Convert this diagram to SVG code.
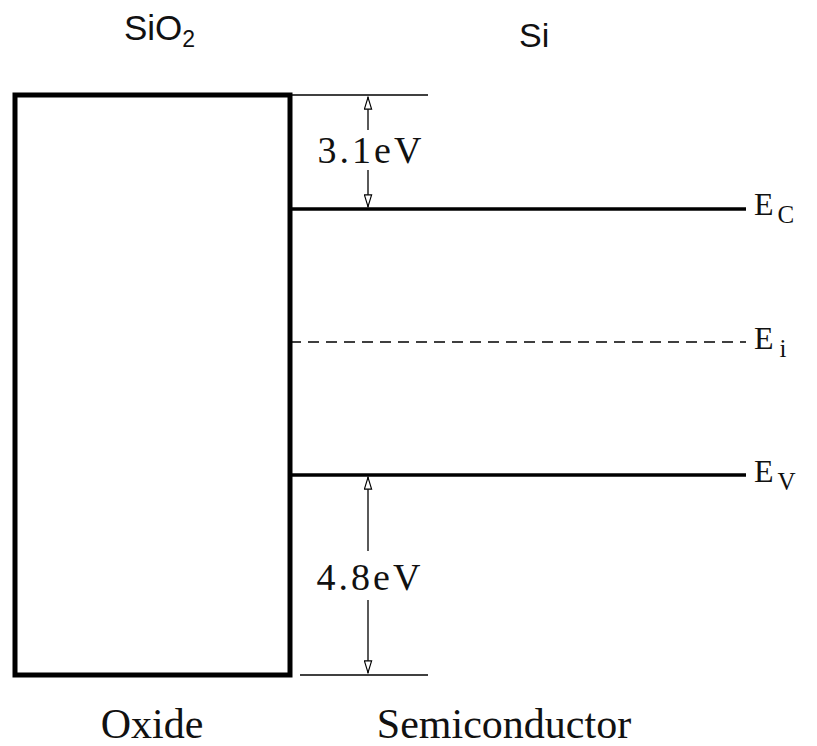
<svg xmlns="http://www.w3.org/2000/svg" width="817" height="746" viewBox="0 0 817 746">
<style>
.sans{font-family:"Liberation Sans",Arial,sans-serif;fill:#111}
.serif{font-family:"Liberation Serif","Times New Roman",serif;fill:#111}
.thin{stroke:#000;stroke-width:1.3;fill:none}
.band{stroke:#000;stroke-width:3.5;fill:none}
.gap{font-size:38px;letter-spacing:3px}
.lvl{font-size:32px}
.sub{font-size:25px}
.bot{font-size:42px}
</style>
<defs>
<marker id="ah" viewBox="0 0 14 10" refX="14" refY="5" markerWidth="14" markerHeight="9" markerUnits="userSpaceOnUse" orient="auto">
<path d="M0.5,1 L13.5,5 L0.5,9 Z" fill="#fff" stroke="#000" stroke-width="1.3"/>
</marker>
</defs>
<g id="oxide">
<rect x="15" y="95" width="275" height="580" fill="#fff" stroke="#000" stroke-width="5"/>
</g>
<g id="levels">
<line class="thin" x1="290" y1="95" x2="428" y2="95"/>
<line class="band" x1="290" y1="209" x2="746" y2="209"/>
<line class="thin" x1="290" y1="342" x2="746" y2="342" stroke-dasharray="11,7" stroke-width="1.8"/>
<line class="band" x1="290" y1="475" x2="746" y2="475"/>
<line class="thin" x1="300" y1="675" x2="428" y2="675"/>
</g>
<g id="connectors">
<line class="thin" x1="368" y1="130" x2="368" y2="97" marker-end="url(#ah)"/>
<line class="thin" x1="368" y1="170" x2="368" y2="207" marker-end="url(#ah)"/>
<line class="thin" x1="368" y1="551" x2="368" y2="477" marker-end="url(#ah)"/>
<line class="thin" x1="368" y1="600" x2="368" y2="673" marker-end="url(#ah)"/>
</g>
<g id="labels">
<text class="sans" x="124" y="40" font-size="35">SiO<tspan font-size="23" dy="7">2</tspan></text>
<text class="sans" x="519" y="47" font-size="34">Si</text>
<text class="serif gap" x="371" y="163" text-anchor="middle">3.1eV</text>
<text class="serif gap" x="370" y="590" text-anchor="middle">4.8eV</text>
<text class="serif lvl" x="754" y="215">E<tspan class="sub" dx="4" dy="8">C</tspan></text>
<text class="serif lvl" x="754" y="349">E<tspan class="sub" dx="6" dy="8">i</tspan></text>
<text class="serif lvl" x="754" y="482">E<tspan class="sub" dx="4" dy="8">V</tspan></text>
<text class="serif bot" x="152" y="738" text-anchor="middle" font-size="44">Oxide</text>
<text class="serif bot" x="504" y="738" text-anchor="middle">Semiconductor</text>
</g>
</svg>
